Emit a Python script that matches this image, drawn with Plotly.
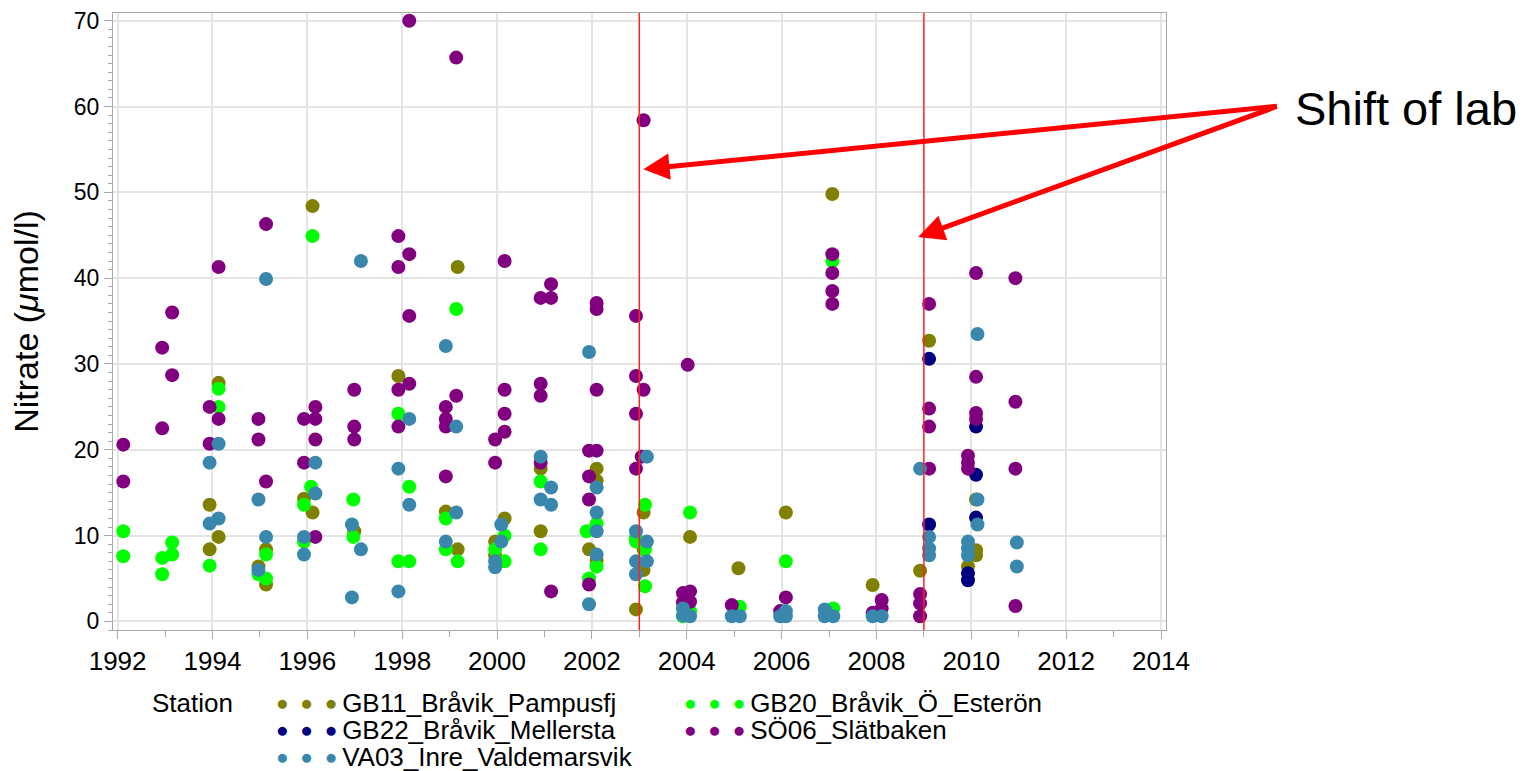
import plotly.graph_objects as go

# ---------------- data ----------------
stations = ["GB11_Bråvik_Pampusfj", "GB20_Bråvik_Ö_Esterön", "GB22_Bråvik_Mellersta",
            "SÖ06_Slätbaken", "VA03_Inre_Valdemarsvik"]
station_colors = ["#808000", "#00ff00", "#000080", "#800080", "#3a87ad"]

gb11_year = [1993.94, 1993.94, 1994.13, 1994.13, 1994.97, 1995.13, 1995.13, 1995.93, 1996.11, 1996.11,
             1996.99, 1997.92, 1998.92, 1999.17, 1999.17, 1999.96, 1999.96, 2000.16, 2000.92, 2000.92,
             2001.94, 2002.10, 2002.10, 2002.10, 2002.93, 2003.09, 2003.09, 2003.09, 2004.07, 2005.09,
             2006.09, 2007.07, 2007.92, 2008.92, 2009.11, 2009.93, 2010.10, 2010.10, 2010.10]
gb11_nitrate = [13.6, 8.4, 27.8, 9.85, 6.4, 8.4, 4.3, 14.3, 48.4, 12.7,
                10.5, 28.6, 12.8, 41.3, 8.4, 9.3, 7.7, 12.0, 17.8, 10.5,
                8.4, 17.8, 16.4, 7.1, 1.4, 12.7, 8.4, 6.0, 9.85, 6.2,
                12.7, 49.8, 4.25, 5.9, 32.7, 6.4, 14.2, 8.3, 7.7]

gb20_year = [1992.12, 1992.12, 1992.94, 1992.94, 1993.15, 1993.15, 1993.94, 1994.13, 1994.13, 1994.97,
             1995.13, 1995.13, 1995.93, 1995.93, 1996.08, 1996.11, 1996.97, 1996.97, 1997.92, 1997.92,
             1998.15, 1998.15, 1998.92, 1998.92, 1999.14, 1999.17, 1999.96, 2000.16, 2000.16, 2000.92,
             2000.92, 2001.89, 2001.94, 2002.10, 2002.10, 2002.93, 2002.93, 2003.12, 2003.12, 2003.12,
             2003.92, 2004.07, 2004.07, 2005.12, 2006.09, 2007.07, 2007.09]
gb20_nitrate = [10.5, 7.6, 7.4, 5.5, 9.2, 7.8, 6.5, 27.1, 25.0, 5.5,
                7.8, 5.0, 13.6, 9.3, 15.7, 44.9, 14.2, 9.85, 24.2, 7.0,
                15.7, 7.0, 12.0, 8.4, 36.4, 7.0, 8.4, 10.0, 7.0, 16.3,
                8.4, 10.5, 5.0, 11.4, 6.4, 9.7, 9.3, 13.6, 8.4, 4.1,
                0.6, 12.7, 1.2, 1.7, 7.0, 42.0, 1.5]

gb22_year = [2009.11, 2009.11, 2009.93, 2009.93, 2010.10, 2010.10, 2010.10]
gb22_nitrate = [30.6, 11.3, 5.6, 4.8, 22.7, 17.1, 12.1]

so06_year = [1992.12, 1992.12, 1992.94, 1992.94, 1993.15, 1993.15, 1993.94, 1993.94, 1994.13, 1994.13,
             1994.97, 1994.97, 1995.13, 1995.13, 1995.93, 1995.93, 1996.17, 1996.17, 1996.17, 1996.17,
             1996.99, 1996.99, 1996.99, 1997.92, 1997.92, 1997.92, 1997.92, 1998.15, 1998.15, 1998.15,
             1998.15, 1998.92, 1998.92, 1998.92, 1998.92, 1999.14, 1999.14, 1999.96, 1999.96, 2000.16,
             2000.16, 2000.16, 2000.16, 2000.92, 2000.92, 2000.92, 2000.92, 2001.14, 2001.14, 2001.14,
             2001.94, 2001.94, 2001.94, 2001.94, 2002.10, 2002.10, 2002.10, 2002.10, 2002.93, 2002.93,
             2002.93, 2002.93, 2003.09, 2003.09, 2003.05, 2003.92, 2003.92, 2004.02, 2004.07, 2004.07,
             2004.95, 2005.97, 2006.09, 2007.07, 2007.07, 2007.07, 2007.07, 2007.92, 2008.11, 2008.11,
             2008.92, 2008.92, 2008.92, 2009.11, 2009.11, 2009.11, 2009.11, 2009.93, 2009.93, 2009.93,
             2010.10, 2010.10, 2010.10, 2010.10, 2010.93, 2010.93, 2010.93, 2010.93]
so06_nitrate = [20.6, 16.3, 31.9, 22.5, 36.0, 28.7, 25.0, 20.7, 41.3, 23.6,
                23.6, 21.2, 46.3, 16.3, 23.6, 18.5, 25.0, 23.6, 21.2, 9.85,
                27.0, 22.7, 21.2, 44.9, 41.3, 27.0, 22.7, 70.0, 42.8, 35.6,
                27.7, 25.0, 23.6, 22.7, 16.9, 65.7, 26.3, 21.2, 18.5, 42.0,
                27.0, 24.2, 22.1, 37.7, 27.7, 26.3, 18.5, 39.3, 37.7, 3.5,
                19.9, 16.9, 14.2, 4.3, 37.1, 36.4, 27.0, 19.9, 35.6, 28.6,
                24.2, 17.8, 58.4, 27.0, 19.2, 3.3, 2.2, 29.9, 3.5, 2.3,
                1.9, 1.2, 2.8, 42.8, 40.6, 38.5, 37.0, 1.0, 2.5, 1.5,
                3.2, 2.1, 0.6, 37.0, 24.8, 22.7, 17.8, 19.3, 18.5, 17.8,
                40.6, 28.5, 24.3, 23.6, 40.0, 25.6, 17.8, 1.8]

va03_year = [1993.94, 1993.94, 1994.13, 1994.13, 1994.97, 1994.97, 1995.13, 1995.13, 1995.93, 1995.93,
             1996.17, 1996.17, 1996.94, 1996.94, 1997.13, 1997.13, 1997.92, 1997.92, 1998.15, 1998.15,
             1998.92, 1998.92, 1999.14, 1999.14, 1999.96, 1999.96, 2000.09, 2000.09, 2000.92, 2000.92,
             2001.14, 2001.14, 2001.94, 2001.94, 2002.10, 2002.10, 2002.10, 2002.10, 2002.93, 2002.93,
             2002.93, 2003.16, 2003.16, 2003.16, 2003.92, 2003.92, 2004.07, 2004.95, 2005.12, 2005.97,
             2006.09, 2006.09, 2006.91, 2006.91, 2007.09, 2007.92, 2008.11, 2008.92, 2009.11, 2009.11,
             2009.11, 2009.93, 2009.93, 2009.93, 2010.13, 2010.13, 2010.13, 2010.96, 2010.96]
va03_nitrate = [18.5, 11.4, 20.7, 12.0, 14.2, 6.0, 39.9, 9.85, 9.85, 7.8,
                18.5, 14.9, 11.3, 2.8, 42.0, 8.4, 17.8, 3.5, 23.6, 13.6,
                32.1, 9.3, 22.7, 12.7, 7.0, 6.3, 11.3, 9.3, 19.2, 14.2,
                15.6, 13.6, 31.4, 2.0, 15.6, 12.7, 10.5, 7.8, 10.5, 7.0,
                5.5, 19.2, 9.3, 7.0, 1.5, 0.7, 0.6, 0.6, 0.6, 0.6,
                1.2, 0.6, 1.4, 0.6, 0.6, 0.6, 0.6, 17.8, 9.85, 8.5,
                7.7, 9.3, 8.5, 7.7, 33.5, 14.2, 11.3, 9.2, 6.4]

series_years = [gb11_year, gb20_year, gb22_year, so06_year, va03_year]
series_values = [gb11_nitrate, gb20_nitrate, gb22_nitrate, so06_nitrate, va03_nitrate]

lab_shift_years = [2003, 2009]
x_tick_values = list(range(1992, 2015, 2))
y_tick_values = list(range(0, 71, 10))

# ---------------- figure ----------------
FONT = "Arial, Liberation Sans, sans-serif"
W, H = 1535, 771
ML, MR, MT, MB = 113, 369, 8, 141
PW, PH = W - ML - MR, H - MT - MB


def px_x(px):
    return (px - ML) / PW


def px_y(py):
    return (H - MB - py) / PH


fig = go.Figure()
for name, col, xs, ys in zip(stations, station_colors, series_years, series_values):
    fig.add_trace(go.Scatter(
        x=xs, y=ys, mode="markers", name=name, showlegend=False,
        marker=dict(color=col, size=14, symbol="circle", line=dict(width=0)),
        cliponaxis=False,
    ))

for yr in lab_shift_years:
    fig.add_vline(x=yr, line_color="#ff2020", line_width=1.5)

axis_line = "#a9a9a9"
grid = "#e4e4e4"
fig.update_xaxes(
    range=[1991.903, 2014.105], tickvals=x_tick_values, ticks="outside", ticklen=8,
    tickcolor=axis_line, tickwidth=1, showgrid=True, gridcolor=grid, gridwidth=1.5,
    showline=True, linecolor=axis_line, linewidth=1, mirror=True, zeroline=False,
    tickfont=dict(family=FONT, size=26, color="black"),
    minor=dict(dtick=1, tick0=1992, ticks="outside", ticklen=6, tickcolor=axis_line, showgrid=False),
)
fig.update_yaxes(
    range=[-1.0, 70.9], tickvals=y_tick_values, ticks="outside", ticklen=8,
    tickcolor=axis_line, tickwidth=1, showgrid=True, gridcolor=grid, gridwidth=1.5,
    showline=True, linecolor=axis_line, linewidth=1, mirror=True, zeroline=False,
    tickfont=dict(family=FONT, size=23, color="black"),
    minor=dict(dtick=1, tick0=0, ticks="outside", ticklen=4, tickcolor=axis_line, showgrid=False),
    title=dict(text="Nitrate (<i>μ</i>mol/l)", font=dict(family=FONT, size=34, color="black"),
               standoff=24),
)

annotations = []
# arrows pointing at the lab shifts
tail_px = (1278, 102)
arrow_tips = [(2003.085, 52.7, 643, 165), (2008.88, 44.8, 918, 233)]
for xd, yd, tipx, tipy in arrow_tips:
    annotations.append(dict(
        x=xd, y=yd, xref="x", yref="y", text="", showarrow=True,
        ax=tail_px[0] - tipx, ay=tail_px[1] - tipy, axref="pixel", ayref="pixel",
        arrowcolor="#ff0000", arrowwidth=5, arrowhead=2, arrowsize=1.05, standoff=0,
    ))
annotations.append(dict(
    x=px_x(1293), y=px_y(104), xref="paper", yref="paper", xanchor="left", yanchor="middle",
    text="Shift of lab", showarrow=False, font=dict(family=FONT, size=47, color="black"),
))

# legend built as text
LEG_SIZE = 26
annotations.append(dict(
    x=px_x(150), y=px_y(704), xref="paper", yref="paper", xanchor="left", yanchor="middle",
    text="Station", showarrow=False, font=dict(family=FONT, size=LEG_SIZE, color="black"),
))
col_x = [274, 682]
row_y = [704, 731, 758]
NB = "\u00a0"
for i, (name, col) in enumerate(zip(stations, station_colors)):
    r, c = divmod(i, 2)
    dots = (f'<span style="color:{col};font-size:21px;baseline-shift:2px">●{NB}{NB}●{NB}{NB}●</span>'
            f'<span style="font-size:17px">{NB}</span>')
    annotations.append(dict(
        x=px_x(col_x[c]), y=px_y(row_y[r]), xref="paper", yref="paper",
        xanchor="left", yanchor="middle", text=dots + name, showarrow=False,
        font=dict(family=FONT, size=LEG_SIZE, color="black"),
    ))

fig.update_layout(
    width=W, height=H, autosize=False,
    margin=dict(l=ML, r=MR, t=MT, b=MB, pad=0),
    paper_bgcolor="white", plot_bgcolor="white",
    font=dict(family=FONT, color="black"),
    showlegend=False,
    annotations=annotations,
)

fig.write_html("out.html")
